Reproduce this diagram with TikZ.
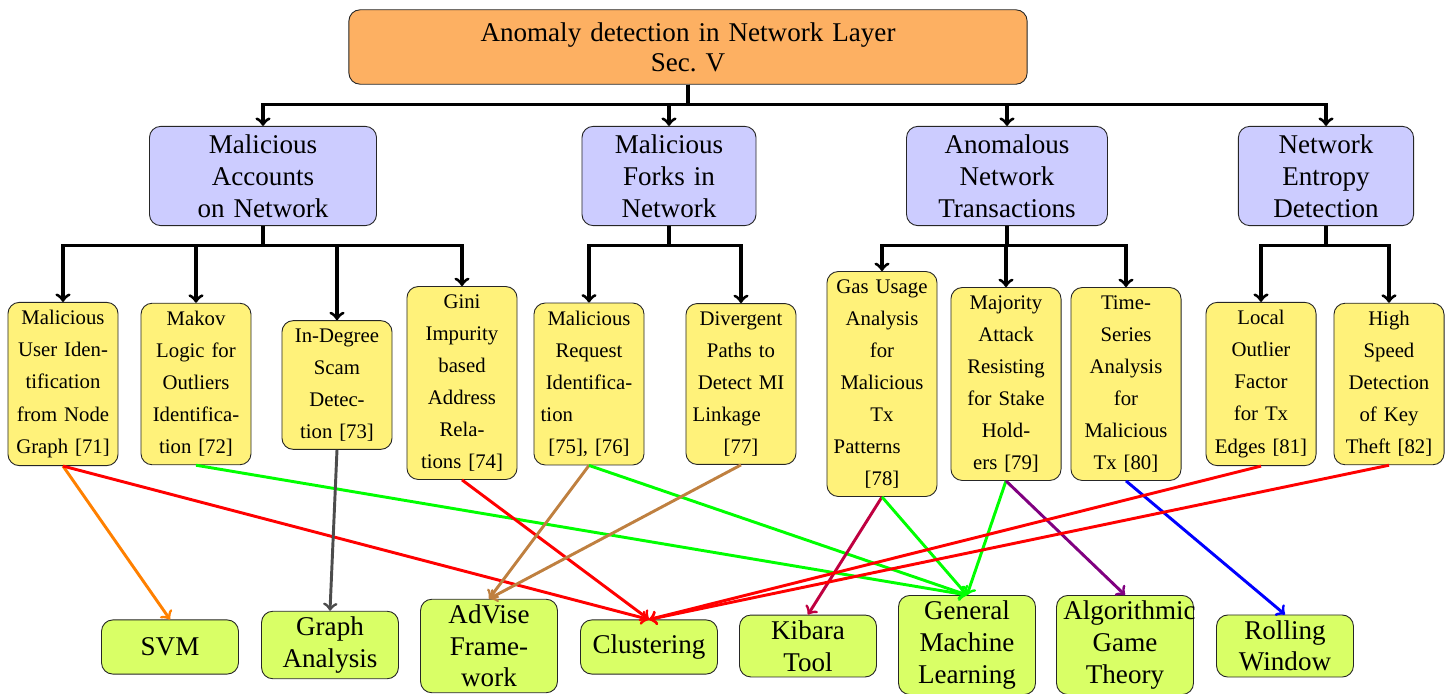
\documentclass[tikz,border=0pt]{standalone}
\usepackage{fontspec}
\setmainfont{Liberation Serif}
\usepackage{xcolor}
\usepackage{tikz}
\usetikzlibrary{positioning, arrows, calc}
\definecolor{rootorange}{RGB}{253,176,98}
\definecolor{catblue}{RGB}{204,204,255}
\definecolor{workyellow}{RGB}{255,242,122}
\definecolor{toolgreen}{RGB}{217,255,102}
\newcommand{\flushline}{\hskip 0pt plus 1filll\null}

\begin{document}
\begin{tikzpicture}[x=0.4433pt, y=-0.4433pt,
	basenode/.style={draw=black!85, rounded corners=5pt, align=center},
	rootnode/.style={basenode, fill=rootorange, text width=294pt, minimum height=33pt, font=\fontsize{12}{13.3}\selectfont},
	catnode/.style={basenode, fill=catblue, minimum height=44pt, font=\fontsize{12}{14.2}\selectfont},
	worknode/.style={basenode, fill=workyellow, text width=42.8pt, inner xsep=3pt, inner ysep=3.6pt, font=\fontsize{9.2}{14.2}\selectfont},
	toolnode/.style={basenode, fill=toolgreen, text width=54.7pt, inner xsep=3pt, inner ysep=2.5pt, minimum height=24pt, font=\fontsize{12}{14}\selectfont},
	treeedge/.style={->, line width=1.4pt, black},
	linkedge/.style={->, line width=1.3pt}]
	\useasboundingbox (0,0) rectangle (1447,694);

	% root and categories
	\node[rootnode] (root) at (688,47) {Anomaly detection in Network Layer\\ Sec.\ V};
	\node[catnode, text width=94pt] (accounts) at (263,176) {Malicious\\ Accounts\\ on Network};
	\node[catnode, text width=70.5pt] (forks) at (669,176) {Malicious\\ Forks in\\ Network};
	\node[catnode, text width=82.4pt] (transactions) at (1007,176) {Anomalous\\ Network\\ Transactions};
	\node[catnode, text width=71pt] (entropy) at (1326,176) {Network\\ Entropy\\ Detection};

	% works
	\node[worknode] (nodegraph) at (63,384) {Malicious\\ User Iden-\\ tification\\ from Node\\ Graph [71]};
	\node[worknode] (makov) at (196,384) {Makov\\ Logic for\\ Outliers\\ Identifica-\\ tion [72]};
	\node[worknode] (indegree) at (337,385) {In-Degree\\ Scam\\ Detec-\\ tion [73]};
	\node[worknode] (gini) at (462,383) {Gini\\ Impurity\\ based\\ Address\\ Rela-\\ tions [74]};
	\node[worknode] (request) at (589,384) {Malicious\\ Request\\ Identifica-\\ tion\flushline\\ {[75], [76]}};
	\node[worknode] (divergent) at (741,384) {Divergent\\ Paths to\\ Detect MI\\ Linkage\flushline\\ {[77]}};
	\node[worknode] (gasusage) at (882,384) {Gas Usage\\ Analysis\\ for\\ Malicious\\ Tx\\ Patterns\flushline\\ {[78]}};
	\node[worknode] (majority) at (1006,384) {Majority\\ Attack\\ Resisting\\ for Stake\\ Hold-\\ ers [79]};
	\node[worknode] (timeseries) at (1126,384) {Time-\\ Series\\ Analysis\\ for\\ Malicious\\ Tx [80]};
	\node[worknode] (lof) at (1261,384) {Local\\ Outlier\\ Factor\\ for Tx\\ Edges [81]};
	\node[worknode] (keytheft) at (1389,384) {High\\ Speed\\ Detection\\ of Key\\ Theft [82]};

	% tools
	\node[toolnode] (svm) at (170,647) {SVM};
	\node[toolnode] (graph) at (330,645) {Graph\\ Analysis};
	\node[toolnode] (advise) at (489,646) {AdVise\\ Frame-\\ work};
	\node[toolnode] (clustering) at (649,647) {Clustering};
	\node[toolnode] (kibara) at (808,646) {Kibara\\ Tool};
	\node[toolnode] (generalml) at (967,645) {General\\ Machine\\ Learning};
	\node[toolnode] (gametheory) at (1125,645) {Algorithmic\\ Game\\ Theory};
	\node[toolnode] (rolling) at (1285,646) {Rolling\\ Window};

	% tree
	\foreach \c in {accounts, forks, transactions, entropy}
		\draw[treeedge] (root.south) -- ++(0,20) -| (\c.north);
	\foreach \w in {nodegraph, makov, indegree, gini}
		\draw[treeedge] (accounts.south) -- ++(0,19) -| (\w.north);
	\foreach \w in {request, divergent}
		\draw[treeedge] (forks.south) -- ++(0,19) -| (\w.north);
	\foreach \w in {gasusage, majority, timeseries}
		\draw[treeedge] (transactions.south) -- ++(0,19) -| (\w.north);
	\foreach \w in {lof, keytheft}
		\draw[treeedge] (entropy.south) -- ++(0,19) -| (\w.north);

	% links to tools
	\draw[linkedge, orange] (nodegraph.south) -- (svm.north);
	\draw[linkedge, red] (nodegraph.south) -- (clustering.north);
	\draw[linkedge, green] (makov.south) -- (generalml.north);
	\draw[linkedge, black!70] (indegree.south) -- (graph.north);
	\draw[linkedge, red] (gini.south) -- (clustering.north);
	\draw[linkedge, brown] (request.south) -- (advise.north);
	\draw[linkedge, green] (request.south) -- (generalml.north);
	\draw[linkedge, brown] (divergent.south) -- (advise.north);
	\draw[linkedge, purple] (gasusage.south) -- (kibara.north);
	\draw[linkedge, green] (gasusage.south) -- (generalml.north);
	\draw[linkedge, green] (majority.south) -- (generalml.north);
	\draw[linkedge, violet] (majority.south) -- (gametheory.north);
	\draw[linkedge, blue] (timeseries.south) -- (rolling.north);
	\draw[linkedge, red] (lof.south) -- (clustering.north);
	\draw[linkedge, red] (keytheft.south) -- (clustering.north);
\end{tikzpicture}
\end{document}
